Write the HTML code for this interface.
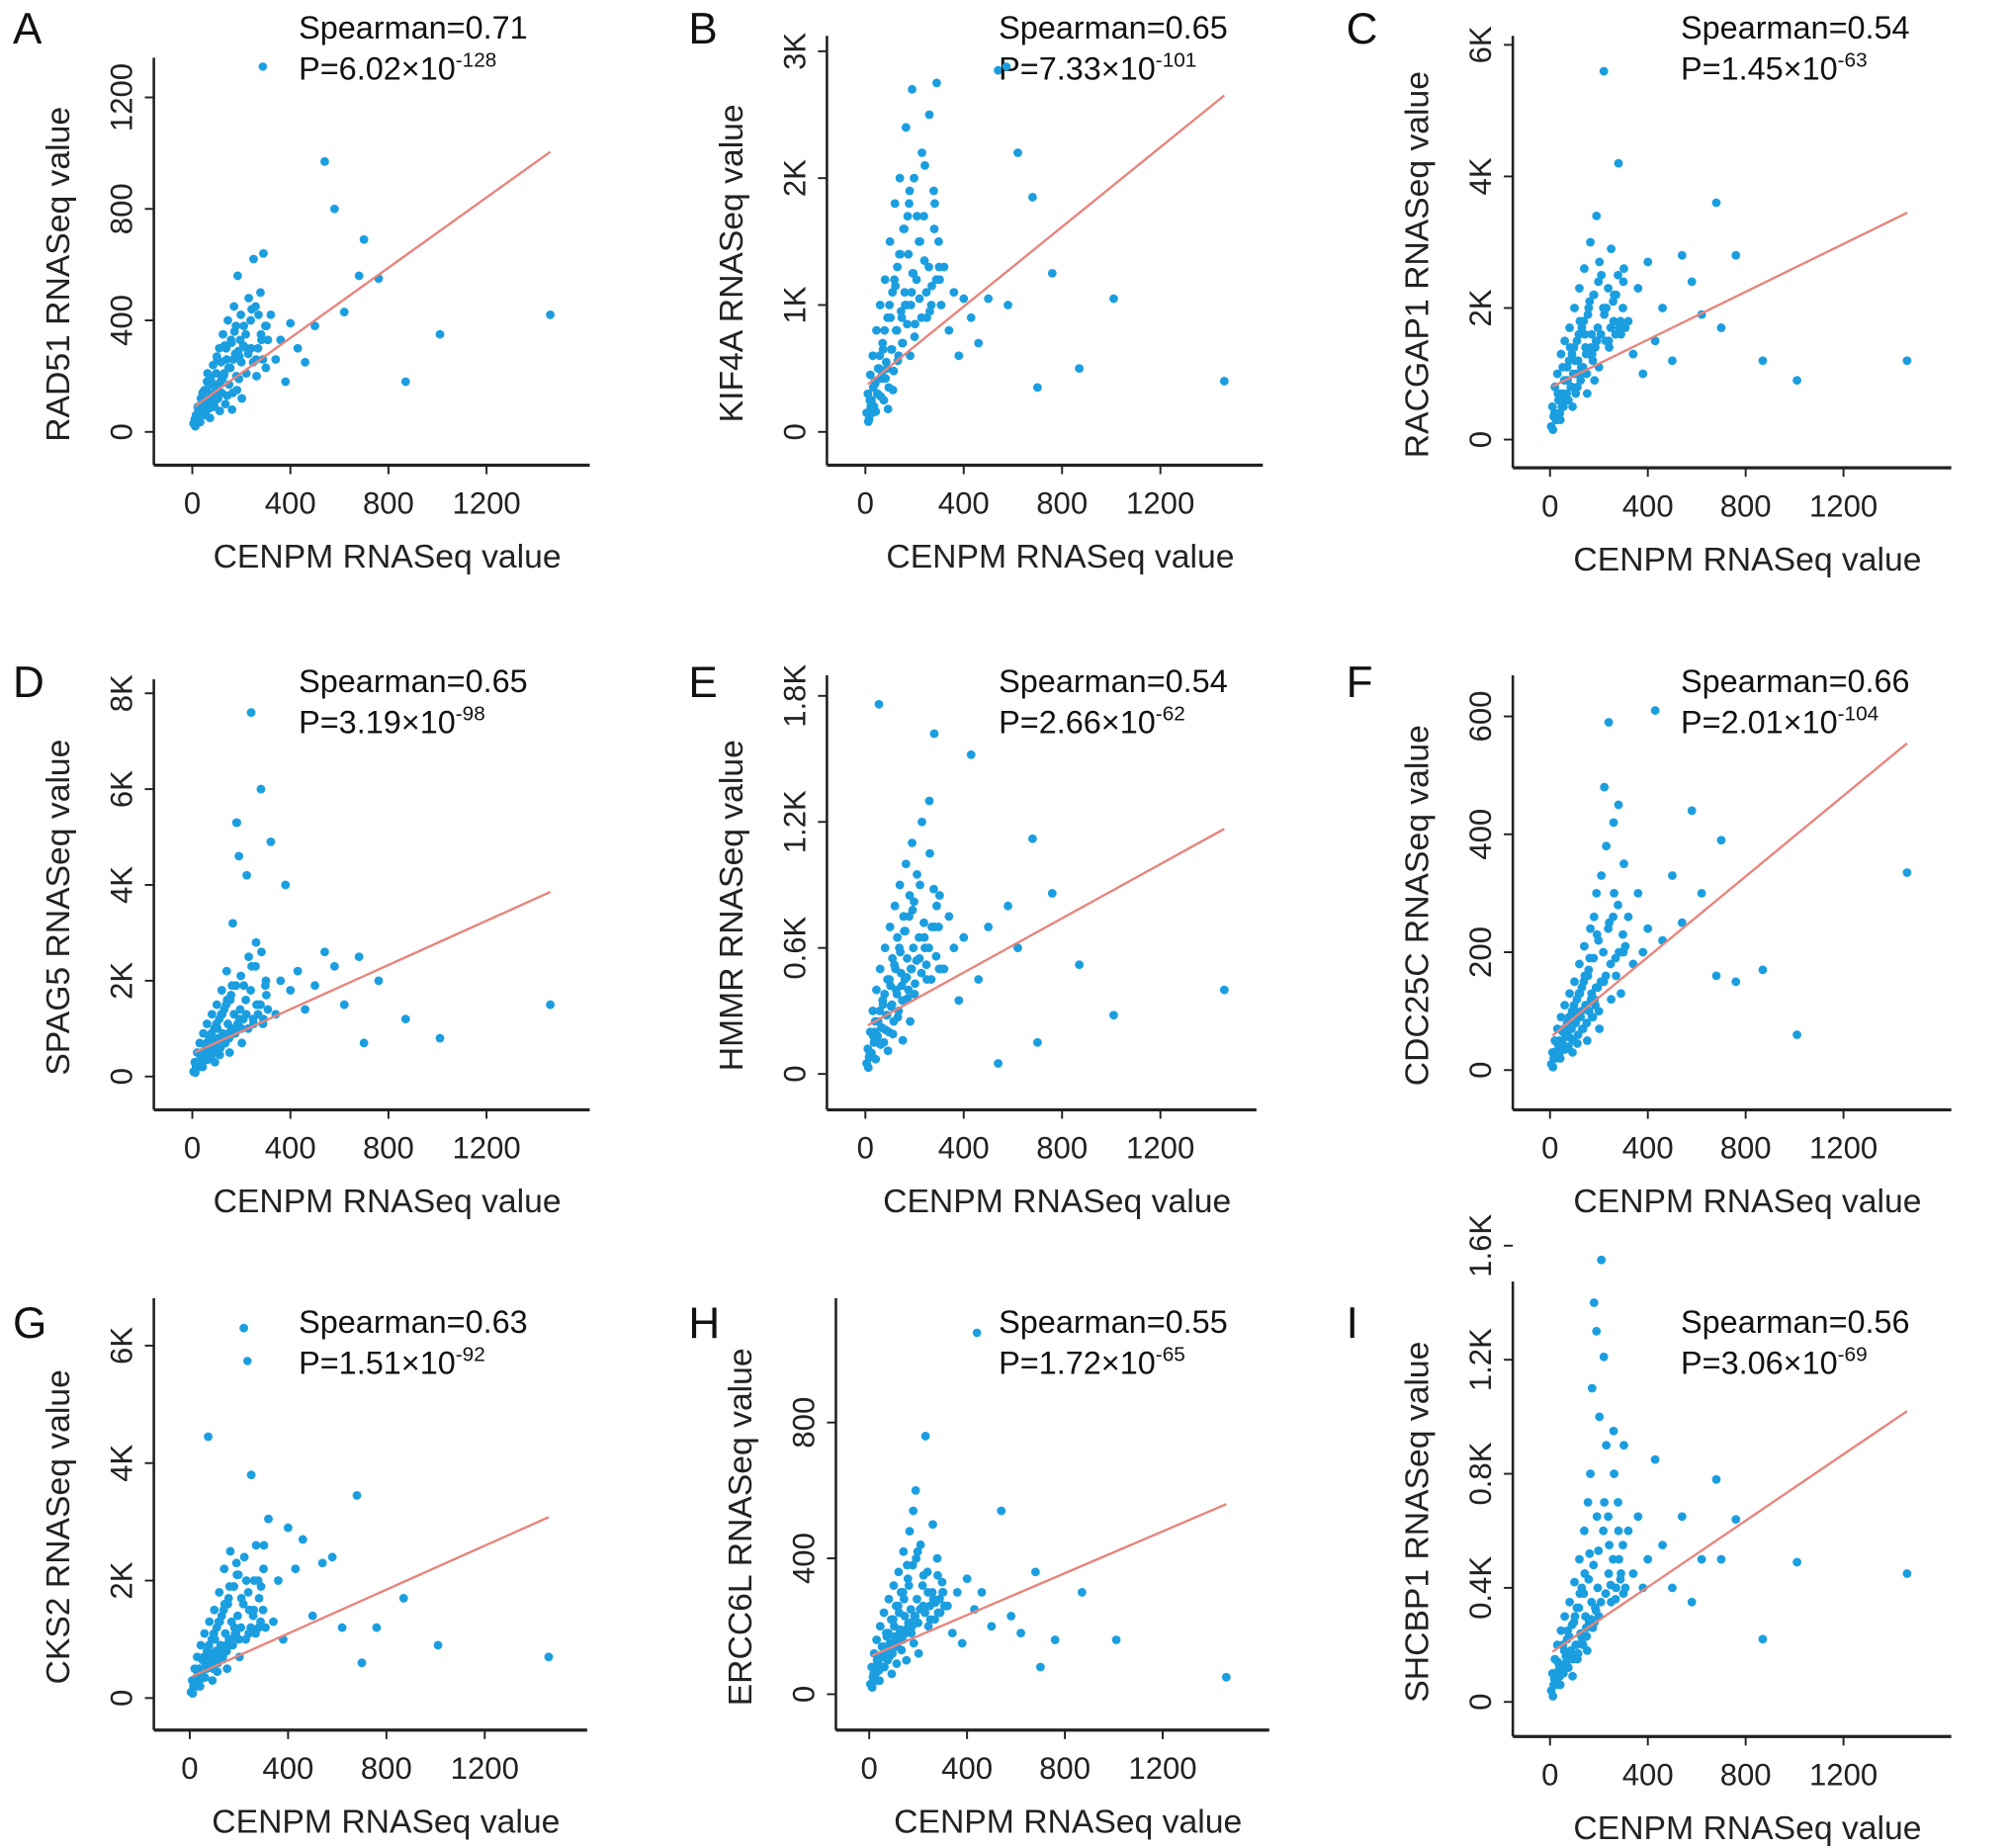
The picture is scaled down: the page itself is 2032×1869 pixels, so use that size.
<!DOCTYPE html>
<html><head><meta charset="utf-8"><style>
html,body{margin:0;padding:0;background:#fff}
svg{display:block;font-family:"Liberation Sans",sans-serif}
</style></head><body>
<svg id="fig" width="2032" height="1869" viewBox="0 0 1567 1442" preserveAspectRatio="none" xmlns="http://www.w3.org/2000/svg"></svg>
<script>
const xValues=[5,10,15,20,25,30,35,40,45,50,55,60,65,70,75,80,85,90,95,100,105,110,115,120,125,130,135,140,145,150,155,160,165,170,175,180,185,190,195,200,210,220,230,240,250,260,270,280,290,300,
12,22,32,42,52,62,72,82,92,102,112,122,132,142,152,162,172,182,192,202,222,242,262,282,302,320,340,360,380,400,430,460,500,540,580,620,680,700,760,870,1010,1460,
18,28,38,48,58,68,78,88,98,108,118,128,138,148,158,168,178,188,198,208,218,228,238,248,258,268,278,288,298,308];
const yA=[30,45,60,40,80,55,120,70,95,150,60,180,110,85,200,130,240,90,160,270,120,300,180,140,350,210,100,260,400,170,230,320,140,450,280,200,560,190,330,250,380,210,480,300,620,260,420,350,640,230,
20,90,35,140,65,210,50,170,110,260,75,190,310,130,230,80,360,150,270,120,300,440,200,330,380,420,260,330,180,390,300,250,380,970,800,430,560,690,550,180,350,420,
50,70,100,90,150,120,180,140,210,170,250,200,300,230,330,260,380,290,420,310,350,280,400,250,450,300,500,260,380,330];
const yB=[150,300,100,450,250,600,200,380,800,300,500,1000,420,700,250,1200,550,900,350,1500,650,1100,480,1800,800,1300,600,2000,950,700,1600,1100,2400,850,1400,1900,1000,2700,1250,750,1700,1050,2200,1350,900,2500,1150,1600,2750,1300,
80,200,350,160,500,280,650,420,180,900,330,1150,560,1400,700,1000,1700,600,1250,850,1500,2100,950,1800,1200,1300,800,1100,600,1050,900,700,1050,2850,1000,2200,1850,350,1250,500,1050,400,
250,150,400,300,600,450,800,500,1000,650,1200,800,1400,900,1600,1000,1800,1100,2000,1200,1500,900,1700,1100,1300,1000,1900,1200,1500,1000];
const yC=[200,500,350,800,300,1000,600,400,1300,700,500,1500,900,1100,600,1700,800,1300,1000,2000,700,1500,1200,2300,900,1700,1100,2600,1400,1000,1900,1300,3000,1600,1200,2200,1400,3400,1700,1100,2500,5600,2000,1500,2900,1800,2200,4200,1600,2400,
150,400,700,300,1100,600,900,1400,500,1200,800,1800,1000,1600,700,2100,1300,900,1500,2700,1900,1400,2200,1700,2600,1800,1300,2300,1000,2700,1500,2000,1200,2800,2400,1900,3600,1700,2800,1200,900,1200,
400,300,700,500,900,700,1200,800,1400,1000,1600,1100,1800,1300,2000,1400,2200,1500,2400,1600,2000,1500,2300,1700,2100,1600,2500,1800,2000,1700];
const yD=[100,300,200,500,250,700,400,300,900,500,350,1100,600,800,400,1300,700,1000,500,1500,800,1200,600,1800,900,1400,700,2200,1100,800,1600,1000,3200,1300,900,5300,1100,4600,1400,1000,1900,1300,2500,7600,1100,2800,1500,6000,1200,2000,
80,250,450,200,650,350,800,550,300,1000,450,1300,700,1600,500,1900,900,5300,1200,700,4200,2300,1500,2600,1700,4900,1300,2000,4000,1800,2200,1400,1900,2600,2300,1500,2500,700,2000,1200,800,1500,
300,200,500,400,700,500,900,600,1100,700,1300,800,1500,900,1700,1000,1900,1100,2100,1200,1600,1000,1800,1200,2300,1300,1500,1100,1900,1400];
const yE=[50,120,80,200,100,300,150,250,400,180,1760,500,220,350,150,600,280,450,200,700,320,550,250,800,400,650,300,900,480,350,750,450,1000,550,400,850,500,1100,600,380,950,550,1200,650,450,1300,700,1620,800,500,
30,90,180,70,250,140,330,210,110,420,190,500,270,580,160,680,360,250,780,430,900,600,1050,700,850,500,750,600,350,650,1520,450,700,50,800,600,1120,150,860,520,280,400,
100,80,200,150,300,220,380,280,450,330,520,380,600,420,680,460,750,500,820,540,650,480,720,520,600,450,880,560,700,500];
const yF=[10,30,20,50,25,70,40,30,90,50,35,110,60,80,40,130,70,100,50,150,80,120,60,180,90,140,70,210,110,80,160,100,240,130,90,260,110,300,140,100,330,150,380,590,120,420,160,450,130,200,
5,25,45,20,65,35,80,55,30,100,45,130,70,160,50,190,90,120,230,70,480,250,300,200,350,260,180,300,200,240,610,220,330,250,440,300,160,390,150,170,60,335,
30,20,50,40,70,60,90,70,110,90,130,100,150,110,170,120,190,140,220,150,200,160,240,180,260,190,280,200,230,210];
const yG=[100,300,200,500,250,700,400,300,900,500,350,1100,600,800,4450,1300,700,1000,500,1500,800,1200,600,1800,900,1400,700,2200,1100,800,1600,1000,2500,1300,900,1900,1100,2300,1400,1000,1700,6300,2000,1100,3800,1500,2600,1200,1900,2200,
80,250,450,200,650,350,800,550,300,1000,450,1300,700,1600,500,1900,900,1200,2100,700,2400,1500,2000,1700,2600,3050,1300,2000,1000,2900,2200,2700,1400,2300,2400,1200,3450,600,1200,1700,900,700,
300,200,500,400,700,500,900,600,1100,700,1300,800,1500,900,1700,1000,1900,1100,2100,1200,1600,1000,1800,1200,1400,1100,2000,1300,1500,1200];
const yH=[30,80,50,120,60,160,90,70,200,110,80,240,130,180,100,280,150,220,120,320,170,260,140,360,190,300,160,420,230,180,380,210,480,250,200,540,230,600,280,210,440,260,760,300,220,500,270,350,240,300,
20,60,100,40,140,80,170,110,60,200,90,240,130,280,100,320,180,150,400,120,350,200,280,240,300,260,180,300,150,340,250,300,200,540,230,180,360,80,160,300,160,50,
60,40,100,80,140,110,180,130,220,150,260,170,300,190,340,210,380,230,420,250,320,240,360,260,300,220,400,280,330,260];
const yI=[40,100,60,150,80,200,110,90,250,130,100,300,160,220,120,350,180,270,150,420,200,330,170,500,240,400,200,600,300,230,700,280,800,350,260,1400,330,1300,400,300,1550,1210,900,450,350,950,400,600,450,380,
20,80,140,60,200,120,250,170,90,300,150,380,220,450,180,520,1100,280,650,1000,700,550,800,500,900,600,450,650,400,500,850,550,400,650,350,500,780,500,640,220,490,450,
80,60,130,100,180,140,230,170,280,200,330,230,380,260,430,290,480,320,530,350,600,380,650,410,500,360,700,430,550,400];
const fitIntercepts=[85,360,790,480,225,55,350,110,170];
const fitSlopes=[0.63,1.57,1.82,2.31,0.645,0.342,1.87,0.308,0.582];
const xTickValues=[0,400,800,1200];
const panelLetters=["A","B","C","D","E","F","G","H","I"];
const geneNames=["RAD51","KIF4A","RACGAP1","SPAG5","HMMR","CDC25C","CKS2","ERCC6L","SHCBP1"];
const spearmanLabels=["0.71","0.65","0.54","0.65","0.54","0.66","0.63","0.55","0.56"];
const pMantissas=["6.02","7.33","1.45","3.19","2.66","2.01","1.51","1.72","3.06"];
const pExponents=["-128","-101","-63","-98","-62","-104","-92","-65","-69"];
const yTickValues=[[0,400,800,1200],[0,1000,2000,3000],[0,2000,4000,6000],[0,2000,4000,6000,8000],[0,600,1200,1800],[0,200,400,600],[0,2000,4000,6000],[0,400,800],[0,400,800,1200,1600]];
const yTickLabels=[["0","400","800","1200"],["0","1K","2K","3K"],["0","2K","4K","6K"],["0","2K","4K","6K","8K"],["0","0.6K","1.2K","1.8K"],["0","200","400","600"],["0","2K","4K","6K"],["0","400","800"],["0","0.4K","0.8K","1.2K","1.6K"]];
const ySeries=[yA,yB,yC,yD,yE,yF,yG,yH,yI];

const layout=[
 {left:120,top:45,bottom:363,right:460,x0:150,xs:76.5,y0:337,yN:76,row:0,col:0},
 {left:645,top:28,bottom:363,right:985,x0:675,xs:76.7,y0:337,yN:40,row:0,col:1},
 {left:1180,top:28,bottom:365,right:1522,x0:1209,xs:76.3,y0:343,yN:35,row:0,col:2},
 {left:120,top:530,bottom:866,right:460,x0:150,xs:76.5,y0:840,yN:541,row:1,col:0},
 {left:645,top:527,bottom:866,right:980,x0:675,xs:76.7,y0:838,yN:543,row:1,col:1},
 {left:1180,top:527,bottom:866,right:1522,x0:1209,xs:76.3,y0:835,yN:559,row:1,col:2},
 {left:120,top:1013,bottom:1350,right:458,x0:148,xs:76.7,y0:1325,yN:1050,row:2,col:0},
 {left:652,top:1013,bottom:1350,right:990,x0:678,xs:76.3,y0:1322,yN:1110,row:2,col:1},
 {left:1180,top:1000,bottom:1355,right:1522,x0:1209,xs:76.3,y0:1328,yN:972,row:2,col:2}
];
const legendDots=[[205,52],[785,52],null,null,null,null,[193,1062],[762,1040],null];
const colText=[233,779,1311], colLetter=[10,537,1050], rowStat=[30,540,1040];
const NS="http://www.w3.org/2000/svg";
const svg=document.getElementById('fig');
function mk(tag,attrs,parent){const e=document.createElementNS(NS,tag);for(const k in attrs)e.setAttribute(k,attrs[k]);(parent||svg).appendChild(e);return e;}

layout.forEach((L,i)=>{
  const g=mk('g',{});
  
  
  const yt=yTickValues[i];
  const vmax=yt[yt.length-1];
  const xScale=v=>L.x0+v/400*L.xs;
  const yScale=v=>L.y0-(v/vmax)*(L.y0-L.yN);
  const lt=mk('text',{x:colLetter[L.col],y:rowStat[L.row]+4,'font-size':34,fill:'#111'},g);lt.textContent=panelLetters[i];
  
  
  const ya=mk('line',{x1:L.left,y1:L.top,x2:L.left,y2:L.bottom,stroke:'#222','stroke-width':2},g);
  
  
  const xa=mk('line',{x1:L.left,y1:L.bottom,x2:L.right,y2:L.bottom,stroke:'#222','stroke-width':2.5},g);
  
  
  xTickValues.forEach(v=>{
    const x=xScale(v);
    mk('line',{x1:x,y1:L.bottom,x2:x,y2:L.bottom+7,stroke:'#222','stroke-width':1.5},g);
    const t=mk('text',{x:x,y:L.bottom+38,'font-size':24,'text-anchor':'middle',fill:'#222'},g);t.textContent=v;
    
    
  });
  yt.forEach((v,j)=>{
    const y=yScale(v);
    mk('line',{x1:L.left-7,y1:y,x2:L.left,y2:y,stroke:'#222','stroke-width':1.5},g);
    const t=mk('text',{x:0,y:0,'font-size':24,'text-anchor':'middle',fill:'#222',transform:`translate(${L.left-17},${y}) rotate(-90)`},g);t.textContent=yTickLabels[i][j];
    
    
  });
  const xtl=mk('text',{x:(L.left+L.right)/2+12,y:L.bottom+80,'font-size':26,'text-anchor':'middle',fill:'#222'},g);xtl.textContent='CENPM RNASeq value';
  
  
  const ytl=mk('text',{x:0,y:0,'font-size':26,'text-anchor':'middle',fill:'#222',transform:`translate(${L.left-66},${(L.top+L.bottom)/2+10}) rotate(-90)`},g);ytl.textContent=geneNames[i]+' RNASeq value';
  
  
  const ys=ySeries[i];
  xValues.forEach((xv,k)=>{
    const c=mk('circle',{cx:xScale(xv),cy:yScale(ys[k]),r:3.4,fill:'#1b9ee0'},g);
    
    
  });
  const fx1=10,fx2=1460;
  const fl=mk('line',{x1:xScale(fx1),y1:yScale(fitIntercepts[i]+fitSlopes[i]*fx1),x2:xScale(fx2),y2:yScale(fitIntercepts[i]+fitSlopes[i]*fx2),stroke:'#e8837a','stroke-width':1.8},g);
  
  
  const s1=mk('text',{x:colText[L.col],y:rowStat[L.row],'font-size':25,fill:'#111'},g);s1.textContent='Spearman='+spearmanLabels[i];
  
  
  const s2=mk('text',{x:colText[L.col],y:rowStat[L.row]+32,'font-size':25,fill:'#111'},g);
  
  
  const a=mk('tspan',{},s2);a.textContent='P='+pMantissas[i]+'×10';
  const b=mk('tspan',{dy:-10,'font-size':16},s2);b.textContent=pExponents[i];
  if(legendDots[i]){
    const d=mk('circle',{cx:legendDots[i][0],cy:legendDots[i][1],r:3.3,fill:'#1b9ee0'},g);
    
    
  }
});
</script>
</body></html>
